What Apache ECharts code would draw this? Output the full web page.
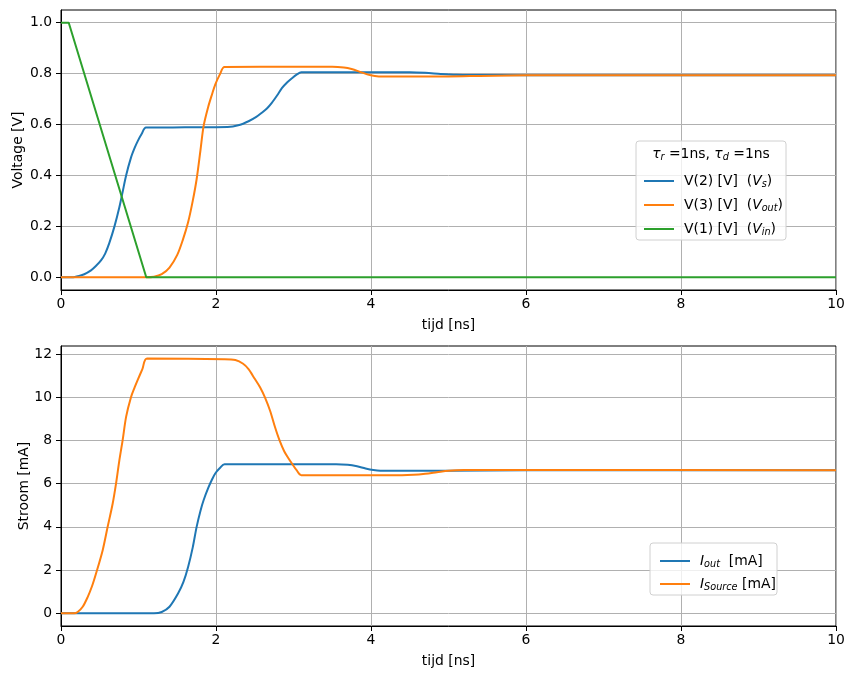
<!DOCTYPE html>
<html><head><meta charset="utf-8">
<script src="https://cdn.jsdelivr.net/npm/echarts@6/dist/echarts.min.js"></script>
<style>html,body{margin:0;padding:0;background:#fff}#c{width:855px;height:679px}</style>
</head><body><div id="c"></div>
<script>
// ---- data (time in ns) ----
const vinT  = [0, 0.1, 1.1, 10];
const vinV  = [1.0, 1.0, 0.0, 0.0];

const vsT = [0, 0.16, 0.215, 0.3, 0.387, 0.45, 0.516, 0.57, 0.624, 0.69, 0.753, 0.795, 0.84, 0.903, 0.95, 0.99, 1.04, 1.097, 1.6, 2.15, 2.3, 2.42, 2.52, 2.59, 2.66, 2.72, 2.79, 2.85, 2.92, 2.98, 3.04, 3.1, 4.0, 4.5, 4.7, 4.9, 5.1, 5.3, 6.0, 10];
const vsV = [0, 0, 0.004, 0.012, 0.027, 0.044, 0.066, 0.093, 0.135, 0.2, 0.275, 0.335, 0.4, 0.47, 0.508, 0.535, 0.563, 0.588, 0.589, 0.59, 0.598, 0.613, 0.63, 0.646, 0.664, 0.685, 0.715, 0.743, 0.766, 0.782, 0.796, 0.805, 0.805, 0.805, 0.803, 0.799, 0.796, 0.795, 0.794, 0.794];

const voutT = [0, 1.1, 1.2, 1.3, 1.4, 1.5, 1.57, 1.64, 1.7, 1.75, 1.8, 1.84, 1.9, 1.95, 1.99, 2.05, 2.11, 3.0, 3.5, 3.65, 3.75, 3.85, 3.95, 4.05, 4.15, 5.0, 5.4, 5.8, 6.2, 10];
const voutV = [0, 0, 0.002, 0.012, 0.038, 0.088, 0.145, 0.216, 0.3, 0.385, 0.5, 0.594, 0.67, 0.72, 0.757, 0.797, 0.826, 0.827, 0.827, 0.824, 0.818, 0.808, 0.797, 0.791, 0.789, 0.789, 0.791, 0.793, 0.794, 0.794];

const ioutT = [0, 1.2, 1.3, 1.4, 1.51, 1.58, 1.64, 1.7, 1.75, 1.8, 1.84, 1.9, 1.95, 1.99, 2.05, 2.11, 3.0, 3.55, 3.7, 3.82, 3.93, 4.03, 4.12, 5.0, 6.0, 10];
const ioutV = [0, 0, 0.06, 0.3, 0.91, 1.45, 2.14, 3.05, 4.0, 4.75, 5.23, 5.8, 6.2, 6.47, 6.72, 6.9, 6.9, 6.9, 6.87, 6.8, 6.7, 6.63, 6.6, 6.6, 6.62, 6.62];

const isrcT = [0, 0.17, 0.215, 0.28, 0.344, 0.4, 0.452, 0.538, 0.602, 0.667, 0.71, 0.753, 0.795, 0.84, 0.903, 0.95, 0.99, 1.05, 1.11, 2.1, 2.25, 2.35, 2.42, 2.5, 2.57, 2.63, 2.7, 2.76, 2.82, 2.88, 2.93, 2.98, 3.04, 3.1, 4.4, 4.55, 4.7, 4.85, 5.0, 5.2, 6.0, 10];
const isrcV = [0, 0, 0.06, 0.3, 0.75, 1.25, 1.84, 2.92, 4.0, 5.08, 6.0, 7.08, 8.0, 9.09, 10.0, 10.45, 10.8, 11.3, 11.79, 11.76, 11.72, 11.55, 11.3, 10.85, 10.45, 10.0, 9.35, 8.63, 8.0, 7.5, 7.2, 6.93, 6.62, 6.39, 6.39, 6.41, 6.46, 6.53, 6.6, 6.63, 6.63, 6.62];

const xTicks = [0, 2, 4, 6, 8, 10];
const vTicks = [0.0, 0.2, 0.4, 0.6, 0.8, 1.0];
const iTicks = [0, 2, 4, 6, 8, 10, 12];

const names = {
  vs: 'V(2) [V]  ({i|V}{sub|s})',
  vout: 'V(3) [V]  ({i|V}{sub|out})',
  vin: 'V(1) [V]  ({i|V}{sub|in})',
  iout: '{i|I}{sub|out}  [mA]',
  isrc: '{i|I}{sub|Source} [mA]'
};

const zip = (t, v) => t.map((x, k) => [x, v[k]]);
const FONT = 'DejaVu Sans';
const FS = 13.9;
const richStyle = {
  i: {fontFamily: FONT, fontStyle: 'italic', fontSize: FS, color: '#000'},
  sub: {fontFamily: FONT, fontStyle: 'italic', fontSize: 9.7, color: '#000', verticalAlign: 'bottom', padding: [7, 0, 0, 0]}
};

function xAxis(gi) {
  return {
    type: 'value', gridIndex: gi, min: 0, max: 10, interval: 2,
    name: 'tijd [ns]', nameLocation: 'middle', nameGap: 28, nameMoveOverlap: false,
    nameTextStyle: {fontFamily: FONT, fontSize: FS, color: '#000'},
    axisLine: {show: true, onZero: false, lineStyle: {color: '#000', width: 1}},
    axisTick: {show: true, length: 5, lineStyle: {color: '#000'}},
    axisLabel: {fontFamily: FONT, fontSize: FS, color: '#000', margin: 7},
    splitLine: {show: true, lineStyle: {color: '#b0b0b0', width: 1}}
  };
}

const lineSeries = (name, xi, t, v, color, z, smooth) => ({
  name, type: 'line', xAxisIndex: xi, yAxisIndex: xi, data: zip(t, v), showSymbol: false,
  smooth: smooth ? 0.3 : false,
  lineStyle: {color, width: 2}, itemStyle: {color}, z
});

const option = {
  animation: false,
  backgroundColor: '#fff',
  grid: [
    {left: 61, right: 19, top: 10, height: 280, show: true, borderColor: '#000', borderWidth: 1, backgroundColor: 'transparent', outerBoundsMode: 'none', containLabel: false},
    {left: 61, right: 19, top: 346, height: 280, show: true, borderColor: '#000', borderWidth: 1, backgroundColor: 'transparent', outerBoundsMode: 'none', containLabel: false}
  ],
  xAxis: [xAxis(0), xAxis(1)],
  yAxis: [
    {
      type: 'value', gridIndex: 0, min: -0.05, max: 1.05,
      name: 'Voltage [V]', nameLocation: 'middle', nameGap: 36, nameMoveOverlap: false,
      nameTextStyle: {fontFamily: FONT, fontSize: FS, color: '#000'},
      axisLine: {show: true, onZero: false, lineStyle: {color: '#000'}},
      axisTick: {show: true, length: 5, lineStyle: {color: '#000'}, customValues: vTicks},
      axisLabel: {fontFamily: FONT, fontSize: FS, color: '#000', margin: 9, customValues: vTicks, formatter: v => v.toFixed(1)},
      splitLine: {show: true, lineStyle: {color: '#b0b0b0', width: 1}}
    },
    {
      type: 'value', gridIndex: 1, min: -0.59, max: 12.37,
      name: 'Stroom [mA]', nameLocation: 'middle', nameGap: 30, nameMoveOverlap: false,
      nameTextStyle: {fontFamily: FONT, fontSize: FS, color: '#000'},
      axisLine: {show: true, onZero: false, lineStyle: {color: '#000'}},
      axisTick: {show: true, length: 5, lineStyle: {color: '#000'}, customValues: iTicks},
      axisLabel: {fontFamily: FONT, fontSize: FS, color: '#000', margin: 9, customValues: iTicks},
      splitLine: {show: true, lineStyle: {color: '#b0b0b0', width: 1}}
    }
  ],
  legend: [
    {
      z: 100, orient: 'vertical', left: 639, top: 169, itemWidth: 30, itemHeight: 2, itemGap: 8.5,
      icon: 'rect', data: [names.vs, names.vout, names.vin],
      textStyle: {fontFamily: FONT, fontSize: FS, color: '#000', padding: [0, 0, 0, 5], rich: richStyle}
    },
    {
      z: 100, orient: 'vertical', left: 655, top: 549, itemWidth: 30, itemHeight: 2, itemGap: 7.5,
      icon: 'rect', data: [names.iout, names.isrc],
      textStyle: {fontFamily: FONT, fontSize: FS, color: '#000', padding: [0, 0, 0, 5], rich: richStyle}
    }
  ],
  graphic: [
    {type: 'rect', shape: {x: 636, y: 141, width: 150, height: 99, r: 3}, style: {fill: 'rgba(255,255,255,0.8)', stroke: '#d0d0d0', lineWidth: 1}, z: 50},
    {type: 'text', x: 711, y: 154, z: 51, style: {
      text: '{i|τ}{sub|r} =1ns, {i|τ}{sub|d} =1ns', align: 'center', verticalAlign: 'middle',
      fontFamily: FONT, fontSize: FS, fill: '#000', rich: {
        i: {fontFamily: FONT, fontSize: FS, fontStyle: 'italic', fill: '#000'},
        sub: {fontFamily: FONT, fontSize: 9.7, fontStyle: 'italic', fill: '#000', padding: [7, 0, 0, 0]}
      }}},
    {type: 'rect', shape: {x: 650, y: 543, width: 127, height: 52, r: 3}, style: {fill: 'rgba(255,255,255,0.8)', stroke: '#d0d0d0', lineWidth: 1}, z: 50}
  ],
  series: [
    lineSeries(names.vs, 0, vsT, vsV, '#1f77b4', 3, true),
    lineSeries(names.vout, 0, voutT, voutV, '#ff7f0e', 4, true),
    lineSeries(names.vin, 0, vinT, vinV, '#2ca02c', 5, false),
    lineSeries(names.iout, 1, ioutT, ioutV, '#1f77b4', 3, true),
    lineSeries(names.isrc, 1, isrcT, isrcV, '#ff7f0e', 4, true)
  ]
};
const chart = echarts.init(document.getElementById('c'), null, {renderer: 'canvas'});
chart.setOption(option);
</script></body></html>
